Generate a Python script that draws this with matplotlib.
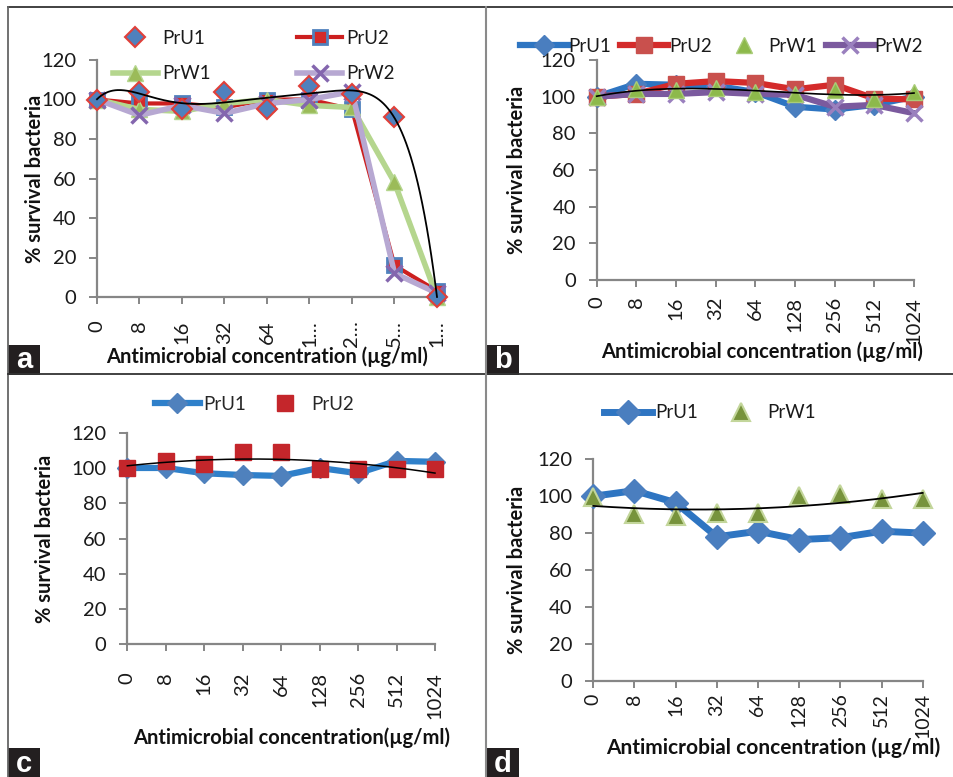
import numpy as np
import matplotlib
matplotlib.use('Agg')
import matplotlib.pyplot as plt
from matplotlib.lines import Line2D
from matplotlib.patches import Rectangle

plt.rcParams['font.family'] = ['Lato', 'DejaVu Sans']

W, H = 954, 777
DPI = 100

# ---------------- data ----------------
conc_full = ['0', '8', '16', '32', '64', '128', '256', '512', '1024']
conc_short_a = ['0', '8', '16', '32', '64', '1…', '2…', '5…', '1…']
y_ticks = [0, 20, 40, 60, 80, 100, 120]

a_PrU1 = [100, 104, 95, 104, 95, 107, 103, 91, 0]
a_PrU2 = [100, 98, 98, 96, 100, 100, 95, 16, 3]
a_PrW1 = [100, 95, 94, 98, 100, 97, 96, 58, 0]
a_PrW2 = [100, 92, 97, 93, 98, 100, 104, 12, 2]

b_PrU1 = [100, 107, 106.5, 106, 102.5, 94.5, 93, 95.5, 100]
b_PrU2 = [100, 101.5, 107, 108.5, 107.5, 104, 106.5, 99, 98.5]
b_PrW1 = [100, 104, 103.5, 105, 102.5, 101.5, 103.5, 99, 102.5]
b_PrW2 = [100, 101.5, 101.5, 102.5, 101.5, 101, 94.5, 95.5, 91]

c_PrU1 = [100, 100, 97, 96, 95.5, 100, 97, 104, 103.5]
c_PrU2 = [100, 104, 102.5, 109, 109, 99.5, 99.5, 99.5, 99.5]

d_PrU1 = [100, 103, 96.5, 78, 81, 76.5, 77.5, 81, 80]
d_PrW1 = [99.5, 90.5, 89, 91, 91, 100, 101, 98.5, 98.5]

x_title = 'Antimicrobial concentration (µg/ml)'
x_title_c = 'Antimicrobial concentration(µg/ml)'
y_title = '% survival bacteria'

fig = plt.figure(figsize=(W / DPI, H / DPI), dpi=DPI)
fig.patch.set_facecolor('white')


def fx(x):
    return x / W


def fy(y):
    return 1 - y / H


def make_ax(x0, ytop, x1, ybot):
    return fig.add_axes([fx(x0), fy(ybot), (x1 - x0) / W, (ybot - ytop) / H])


def trend(vals, deg):
    xi = np.arange(1, len(vals) + 1)
    coef = np.polyfit(xi, vals, deg)
    xs = np.linspace(1, len(vals), 300)
    return xs - 1, np.polyval(coef, xs)


GRAY = '#868686'
TICK_FS = 14.5


def style_ax(ax, labels, xpad, xlab, xlab_xy, ylab_xy, xlab_size=14.5, tick_fs=TICK_FS):
    n = len(labels)
    ax.set_xlim(0, n - 1)
    ax.set_ylim(0, 120)
    ax.set_xticks(np.arange(n))
    ax.set_xticklabels(labels, rotation=90)
    ax.set_yticks(y_ticks)
    for s in ['top', 'right']:
        ax.spines[s].set_visible(False)
    for s in ['left', 'bottom']:
        ax.spines[s].set_color(GRAY)
        ax.spines[s].set_linewidth(1.6)
    ax.tick_params(axis='x', length=5, width=1.4, color=GRAY, labelsize=tick_fs,
                   labelcolor='#1a1a1a', pad=xpad)
    ax.tick_params(axis='y', length=6, width=1.4, color=GRAY, labelsize=TICK_FS,
                   labelcolor='#1a1a1a', pad=9)
    ax.set_xlabel(xlab, fontsize=xlab_size, fontweight='bold', color='#111111')
    ax.xaxis.set_label_coords(fx(xlab_xy[0]), fy(xlab_xy[1]), transform=fig.transFigure)
    ax.xaxis.label.set_va('center')
    ax.set_ylabel(y_title, fontsize=14.5, fontweight='bold', color='#111111')
    ax.yaxis.set_label_coords(fx(ylab_xy[0]), fy(ylab_xy[1]), transform=fig.transFigure)
    ax.yaxis.label.set_va('center')
    ax.patch.set_alpha(0)


x = np.arange(len(conc_full))

# ---------------- panel a ----------------
axa = make_ax(97, 60, 437, 297)
style_ax(axa, conc_short_a, 12, x_title, (267, 357), (35, 179))
h1, = axa.plot(x, a_PrU1, ls='none', marker='D', ms=10, mfc='#4F81BD', mec='#E0403A',
               mew=1.5, clip_on=False, zorder=6, label='PrU1')
h2, = axa.plot(x, a_PrU2, color='#CC1F1F', lw=3, marker='s', ms=10, mfc='#D42A2A',
               mec='#4F81BD', mew=2, clip_on=False, zorder=3, label='PrU2')
h3, = axa.plot(x, a_PrW1, color='#B5D68E', lw=4, marker='^', ms=11, mfc='#9BBB59',
               mec='#B5D68E', mew=1, clip_on=False, zorder=4, label='PrW1')
h4, = axa.plot(x, a_PrW2, color='#B7A8D2', lw=4, marker='x', ms=11, mec='#8466AE',
               mew=2.5, clip_on=False, zorder=5, label='PrW2')
tx, ty = trend(a_PrU1, 6)
axa.plot(tx, ty, color='black', lw=1.3, zorder=7, clip_on=False)
axa.legend(handles=[h1, h3, h2, h4], ncol=2, loc='center left',
           bbox_to_anchor=(fx(113), fy(56)), bbox_transform=fig.transFigure,
           frameon=False, fontsize=13.5, handlelength=2.4, handletextpad=0.22,
           columnspacing=4.6, labelspacing=1.0, borderpad=0, borderaxespad=0,
           labelcolor='#1a1a1a')

# ---------------- panel b ----------------
axb = make_ax(596.7, 60, 914, 280)
style_ax(axb, conc_full, 7, x_title, (762, 352), (517, 170))
g1, = axb.plot(x, b_PrU1, color='#2E75C2', lw=4.5, marker='D', ms=10, mfc='#4A7EBF',
               mec='#4A7EBF', clip_on=False, zorder=3, label='PrU1')
g2, = axb.plot(x, b_PrU2, color='#D42B2B', lw=4.5, marker='s', ms=12, mfc='#C9504D',
               mec='#C9504D', clip_on=False, zorder=4, label='PrU2')
g3, = axb.plot(x, b_PrW1, ls='none', marker='^', ms=12, mfc='#8DB94B', mec='#A9CC78',
               mew=1, clip_on=False, zorder=6, label='PrW1')
g4, = axb.plot(x, b_PrW2, color='#7B5A9E', lw=4.5, marker='x', ms=11, mec='#9A80BE',
               mew=2.5, clip_on=False, zorder=5, label='PrW2')
tx, ty = trend(b_PrW1, 4)
axb.plot(tx, ty, color='black', lw=1.2, zorder=7, clip_on=False)
axb.legend(handles=[g1, g2, g3, g4], ncol=4, loc='center left',
           bbox_to_anchor=(fx(520), fy(46)), bbox_transform=fig.transFigure,
           frameon=False, fontsize=13.5, handlelength=2.55, handletextpad=0.05,
           columnspacing=0.45, borderpad=0, borderaxespad=0, labelcolor='#1a1a1a')

# ---------------- panel c ----------------
axc = make_ax(127.3, 432.7, 435, 644.3)
style_ax(axc, conc_full, 15, x_title_c, (292, 738), (45, 539))
k1, = axc.plot(x, c_PrU1, color='#2F80CA', lw=4.5, marker='D', ms=10, mfc='#4F81BD',
               mec='#4F81BD', clip_on=False, zorder=3, label='PrU1')
k2, = axc.plot(x, c_PrU2, ls='none', marker='s', ms=12, mfc='#C4262B', mec='#C4262B',
               clip_on=False, zorder=4, label='PrU2')
tx, ty = trend(c_PrU2, 2)
axc.plot(tx, ty, color='black', lw=1.1, zorder=5, clip_on=False)
axc.legend(handles=[k1, k2], ncol=2, loc='center left',
           bbox_to_anchor=(fx(155), fy(404)), bbox_transform=fig.transFigure,
           frameon=False, fontsize=13.5, handlelength=2.4, handletextpad=0.17,
           columnspacing=0.9, borderpad=0, borderaxespad=0, labelcolor='#262626')

# ---------------- panel d ----------------
axd = make_ax(593.3, 459.3, 922.7, 680.7)
style_ax(axd, conc_full, 4, x_title, (773, 748), (517, 570), xlab_size=15, tick_fs=14)
m1, = axd.plot(x, d_PrU1, color='#2E75C2', lw=5, marker='D', ms=12, mfc='#4A7EBF',
               mec='#4A7EBF', clip_on=False, zorder=3, label='PrU1')
m2, = axd.plot(x, d_PrW1, ls='none', marker='^', ms=13, mfc='#77933C', mec='#C3D69B',
               mew=1.5, clip_on=False, zorder=4, label='PrW1')
tx, ty = trend(d_PrW1, 2)
axd.plot(tx, ty, color='black', lw=1.3, zorder=5, clip_on=False)
axd.legend(handles=[m1, m2], ncol=2, loc='center left',
           bbox_to_anchor=(fx(604), fy(412.7)), bbox_transform=fig.transFigure,
           frameon=False, fontsize=13.5, handlelength=2.55, handletextpad=0.17,
           columnspacing=1.0, borderpad=0, borderaxespad=0, labelcolor='#1a1a1a')

# ---------------- frame & panel letters ----------------
ov = fig.add_axes([0, 0, 1, 1], zorder=-1)
ov.set_xlim(0, W)
ov.set_ylim(H, 0)
ov.axis('off')
ov.plot([8, W], [7, 7], color='#333333', lw=1.3)
ov.plot([8, 8], [7, H], color='#666666', lw=1.3)
ov.plot([8, W], [374, 374], color='#333333', lw=1.3)
ov.plot([486.5, 486.5], [7, H], color='#8a8a8a', lw=1.5)

letters = [('a', 8, 345), ('b', 487, 345), ('c', 8, 748), ('d', 487, 748)]
for lab, lx, ly in letters:
    ov.add_patch(Rectangle((lx, ly), 32, 29.5, facecolor='#231f20', edgecolor='none'))
    ov.text(lx + 16, ly + 15.5, lab, color='white', fontsize=21, fontweight='bold',
            ha='center', va='center', family=['Liberation Sans', 'DejaVu Sans'])

fig.savefig('out.png', dpi=DPI, facecolor='white')
